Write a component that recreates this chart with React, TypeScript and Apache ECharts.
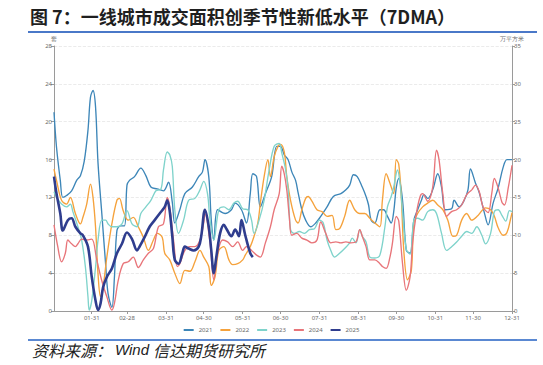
import React, { useEffect, useRef } from 'react';
import * as echarts from 'echarts';

const xTickDays = [30, 58, 89, 119, 150, 180, 211, 242, 272, 303, 333, 364];
const xTickLabels = ['01-31', '02-28', '03-31', '04-30', '05-31', '06-30', '07-31', '08-31', '09-30', '10-31', '11-30', '12-31'];
const seriesNames = ['2021', '2022', '2023', '2024', '2025'];
const seriesColors = ['#3d86b8', '#f5a23c', '#7fd3cb', '#e8757a', '#2f3d8e'];

const s2021: [number, number][] = [[0,21.0],[2,17.3],[5,13.8],[7,12.0],[10,12.2],[14,12.7],[18,13.8],[21,14.3],[24,15.8],[27,19.1],[29,22.6],[31,23.3],[33,21.6],[35,15.6],[38,10.3],[41,5.0],[43,1.8],[46,0.4],[48,3.5],[50,8.5],[53,9.0],[56,9.0],[58,13.3],[60,13.8],[64,14.2],[69,15.1],[73,14.3],[77,13.1],[82,12.9],[87,12.7],[91,13.6],[94,11.5],[96,9.3],[100,10.7],[104,12.4],[110,13.1],[115,14.2],[118,14.7],[120,16.0],[123,14.2],[125,9.6],[127,7.5],[130,10.7],[136,10.3],[141,10.7],[144,11.4],[149,10.7],[153,9.3],[156,12.4],[158,14.5],[161,14.2],[164,11.0],[168,12.4],[173,14.2],[177,17.4],[180,17.4],[183,16.5],[186,16.0],[189,14.7],[192,13.8],[194,12.5],[197,10.7],[200,9.6],[204,8.9],[208,9.3],[212,10.0],[217,11.0],[222,12.1],[228,12.4],[232,12.8],[235,13.3],[238,14.4],[241,14.2],[245,13.1],[248,12.1],[250,11.2],[252,9.6],[255,9.3],[259,10.7],[262,10.7],[265,10.0],[268,9.3],[270,10.5],[272,13.0],[274,14.0],[277,11.7],[280,6.4],[283,6.1],[286,9.6],[289,10.7],[292,11.7],[294,12.3],[297,11.9],[301,12.8],[305,14.5],[308,13.1],[311,10.7],[316,10.8],[318,11.7],[322,11.0],[326,11.7],[329,12.8],[331,15.0],[335,13.5],[338,12.5],[342,10.4],[345,9.1],[349,11.4],[353,13.0],[357,15.2],[360,16.0],[364,16.0]];
const s2022: [number, number][] = [[0,15.0],[2,13.8],[6,11.7],[10,11.3],[13,12.0],[17,10.3],[21,9.2],[23,9.9],[26,11.3],[29,13.4],[31,12.0],[33,8.9],[35,3.9],[37,1.5],[39,2.5],[42,5.7],[46,9.2],[50,11.7],[52,11.9],[55,10.6],[59,9.6],[63,9.9],[67,8.9],[71,7.8],[75,6.4],[79,7.5],[82,8.2],[86,7.8],[88,6.1],[92,5.4],[96,4.0],[100,2.9],[104,4.3],[108,4.2],[112,5.2],[116,6.4],[119,5.7],[123,4.7],[125,2.7],[128,3.6],[131,6.4],[135,6.8],[139,5.4],[142,4.9],[146,5.0],[150,5.4],[152,5.9],[156,6.8],[159,7.9],[162,9.3],[164,11.4],[167,14.2],[170,16.0],[172,14.2],[175,16.3],[178,17.4],[180,17.6],[183,16.8],[185,14.2],[188,11.7],[192,9.6],[194,9.3],[197,10.7],[200,11.9],[202,12.1],[205,11.6],[209,10.7],[213,10.5],[217,10.0],[221,10.1],[224,8.6],[227,8.7],[231,10.0],[235,11.7],[239,10.7],[243,10.3],[247,10.3],[251,9.8],[255,9.3],[259,8.9],[261,11.7],[264,14.5],[267,13.5],[270,12.4],[272,16.0],[274,15.5],[276,12.1],[278,6.4],[281,3.3],[284,4.3],[286,9.3],[289,10.3],[293,11.0],[297,11.4],[301,11.7],[305,11.2],[309,10.7],[313,9.6],[317,7.9],[320,8.0],[324,9.6],[328,10.3],[332,9.6],[337,10.1],[343,10.9],[347,10.7],[350,10.0],[353,8.8],[357,8.0],[360,8.3],[363,9.8],[364,10.4]];
const s2023: [number, number][] = [[0,12.6],[2,12.0],[6,11.3],[10,11.0],[13,11.3],[15,10.5],[19,8.9],[22,7.5],[25,4.6],[27,1.5],[28,0.1],[30,1.1],[33,4.6],[35,7.5],[38,9.6],[41,9.6],[43,9.2],[46,8.9],[50,8.9],[54,9.2],[58,10.6],[62,9.2],[66,8.9],[69,10.3],[73,11.0],[77,11.7],[81,12.7],[85,12.9],[87,14.9],[90,16.8],[92,16.5],[94,15.3],[96,10.7],[99,8.2],[103,9.6],[107,11.7],[112,11.9],[116,12.8],[119,13.7],[122,12.4],[124,9.6],[127,7.5],[131,10.7],[135,11.0],[139,10.7],[143,11.4],[146,11.6],[150,10.8],[154,10.7],[157,9.6],[159,8.2],[163,9.6],[167,11.7],[171,14.9],[175,17.4],[179,17.7],[181,16.7],[184,15.0],[186,13.0],[188,8.6],[191,8.2],[195,8.4],[199,8.2],[203,8.6],[207,8.7],[211,9.6],[214,9.3],[217,7.5],[220,6.4],[223,5.7],[227,6.1],[231,6.6],[235,7.2],[237,7.7],[240,7.2],[243,8.6],[245,7.9],[248,7.3],[251,5.7],[255,5.6],[259,5.9],[263,8.9],[265,11.0],[268,12.1],[270,13.1],[273,14.9],[275,13.5],[277,10.5],[280,6.5],[283,6.0],[286,9.6],[289,9.8],[293,9.6],[297,10.5],[301,10.7],[304,10.3],[308,8.2],[312,6.4],[316,6.8],[320,7.3],[324,7.9],[328,8.4],[332,8.2],[336,8.9],[340,8.0],[343,7.1],[347,8.2],[350,10.5],[353,10.7],[356,10.1],[359,9.5],[362,10.6],[364,10.5]];
const s2024: [number, number][] = [[0,9.1],[3,6.8],[6,5.2],[9,6.1],[11,7.5],[14,7.1],[17,6.8],[19,7.1],[22,7.6],[26,7.5],[30,7.6],[34,5.4],[38,3.2],[42,1.5],[46,0.1],[48,0.8],[51,3.2],[55,5.0],[59,5.2],[63,5.7],[67,4.6],[71,5.4],[75,6.1],[79,6.6],[83,8.9],[87,9.2],[90,12.0],[92,11.0],[95,7.5],[98,4.7],[100,5.0],[104,6.4],[108,6.8],[112,6.8],[116,7.5],[119,9.3],[120,10.3],[124,7.2],[127,3.3],[130,6.1],[134,7.5],[138,7.3],[142,6.8],[146,7.3],[150,6.4],[153,6.8],[157,6.4],[161,5.9],[164,5.7],[168,7.2],[172,8.9],[175,10.7],[179,12.4],[181,15.3],[183,14.5],[185,12.8],[187,10.0],[189,8.0],[193,8.2],[197,7.7],[201,7.5],[205,7.2],[209,7.5],[212,9.4],[216,8.2],[220,7.2],[224,7.3],[228,7.2],[232,7.3],[236,7.2],[240,7.3],[243,8.6],[245,7.9],[248,6.8],[251,5.4],[255,5.4],[259,5.0],[261,4.7],[264,4.5],[267,5.7],[269,7.2],[272,10.0],[274,9.5],[277,5.0],[280,2.2],[283,3.6],[285,7.2],[288,10.3],[291,12.1],[293,12.4],[297,11.6],[301,13.1],[304,17.0],[306,16.0],[309,12.4],[312,10.0],[316,10.5],[320,10.7],[324,11.2],[328,12.3],[332,12.8],[335,13.3],[338,12.6],[341,11.0],[345,10.4],[348,12.5],[350,14.0],[353,13.0],[356,11.5],[358,11.2],[361,13.0],[364,15.4]];
const s2025: [number, number][] = [[0,14.2],[2,12.4],[5,10.3],[7,8.5],[11,9.6],[14,9.8],[17,8.9],[21,8.2],[23,8.0],[27,6.8],[30,3.6],[33,1.1],[35,0.1],[37,0.8],[39,2.5],[42,3.6],[46,4.5],[50,6.1],[54,7.1],[58,8.3],[62,7.6],[66,6.4],[68,6.8],[72,7.8],[76,8.9],[80,9.6],[84,10.3],[88,11.0],[90,11.7],[92,10.5],[94,7.9],[96,5.4],[99,5.0],[102,6.1],[104,6.8],[107,6.6],[111,6.4],[115,6.8],[117,7.9],[120,10.7],[123,8.9],[125,6.4],[127,4.0],[129,5.7],[132,8.2],[135,9.1],[137,8.7],[141,7.9],[144,8.6],[147,7.9],[149,9.6],[152,8.0],[156,6.1],[158,5.7]];

const allSeries = [s2021, s2022, s2023, s2024, s2025];

export default function App() {
  const ref = useRef<HTMLDivElement>(null);
  useEffect(() => {
    const chart = echarts.init(ref.current as HTMLDivElement, null, { renderer: 'svg' });
    const axisColor = '#9a9a9a';
    const labelColor = '#6b6b6b';
    chart.setOption({
      animation: false,
      backgroundColor: '#ffffff',
      grid: { left: 54, right: 31, top: 46, bottom: 54, containLabel: false },
      legend: {
        top: 322,
        left: 'center',
        icon: 'rect',
        itemWidth: 10,
        itemHeight: 2,
        itemGap: 8,
        textStyle: { fontSize: 6, color: labelColor, fontFamily: 'Noto Sans' },
        data: seriesNames,
      },
      xAxis: {
        type: 'value',
        min: 0,
        max: 364,
        axisLine: { show: true, lineStyle: { color: axisColor, width: 1 } },
        axisTick: { show: true, length: 3, customValues: xTickDays, lineStyle: { color: axisColor } },
        splitLine: { show: false },
        axisLabel: {
          customValues: xTickDays,
          fontSize: 6,
          color: labelColor,
          margin: 4,
          fontFamily: 'Noto Sans',
          formatter: (v: number) => {
            const i = xTickDays.indexOf(Math.round(v));
            return i >= 0 ? xTickLabels[i] : '';
          },
        },
      },
      yAxis: [
        {
          type: 'value',
          position: 'left',
          min: 0,
          max: 28,
          interval: 4,
          name: '套',
          nameGap: 4,
          nameTextStyle: { fontSize: 6, color: labelColor, align: 'center' },
          axisLine: { show: true, lineStyle: { color: axisColor } },
          axisTick: { show: true, length: 3, lineStyle: { color: axisColor } },
          axisLabel: { fontSize: 6, color: labelColor, margin: 2, fontFamily: 'Noto Sans' },
          splitLine: { show: true, lineStyle: { color: '#e6e6e6', type: 'dashed', width: 0.8 } },
        },
        {
          type: 'value',
          position: 'right',
          min: 0,
          max: 35,
          interval: 5,
          name: '万平方米',
          nameGap: 4,
          nameTextStyle: { fontSize: 6, color: labelColor, align: 'center' },
          axisLine: { show: true, lineStyle: { color: axisColor } },
          axisTick: { show: true, length: 3, lineStyle: { color: axisColor } },
          axisLabel: { fontSize: 6, color: labelColor, margin: 2, fontFamily: 'Noto Sans' },
          splitLine: { show: false },
        },
      ],
      series: allSeries.map((d, i) => ({
        name: seriesNames[i],
        type: 'line',
        yAxisIndex: 0,
        data: d,
        smooth: 0.35,
        showSymbol: false,
        color: seriesColors[i],
        lineStyle: { width: i === 4 ? 2.6 : 1.35, color: seriesColors[i] },
        z: i === 4 ? 10 : 2,
      })),
      graphic: [
        {
          type: 'text',
          left: 30,
          top: 7,
          style: {
            text: '图 7：一线城市成交面积创季节性新低水平（7DMA）',
            fontSize: 18,
            fontWeight: 'bold',
            fill: '#1f1f1f',
            fontFamily: '"Noto Sans CJK SC", sans-serif',
          },
        },
        { type: 'line', shape: { x1: 28, y1: 32, x2: 537, y2: 32 }, style: { stroke: '#4a78c8', lineWidth: 2 } },
        { type: 'line', shape: { x1: 28, y1: 340, x2: 537, y2: 340 }, style: { stroke: '#5a88d2', lineWidth: 2 } },
        {
          type: 'text',
          left: 32,
          top: 342,
          style: { text: '资料来源：', fontSize: 16, fontStyle: 'italic', fill: '#222', fontFamily: '"Noto Sans CJK SC", sans-serif' },
        },
        {
          type: 'text',
          left: 115,
          top: 342,
          style: { text: 'Wind', fontSize: 15, fontStyle: 'italic', fill: '#222', fontFamily: '"Liberation Sans", Arial, sans-serif' },
        },
        {
          type: 'text',
          left: 153,
          top: 342,
          style: { text: '信达期货研究所', fontSize: 16, fontStyle: 'italic', fill: '#222', fontFamily: '"Noto Sans CJK SC", sans-serif' },
        },
      ],
    });
    return () => chart.dispose();
  }, []);
  return (
    <div style={{ position: 'fixed', left: 0, top: 0, width: 543, height: 365, background: '#fff' }}>
      <div ref={ref} style={{ width: 543, height: 365 }} />
    </div>
  );
}
